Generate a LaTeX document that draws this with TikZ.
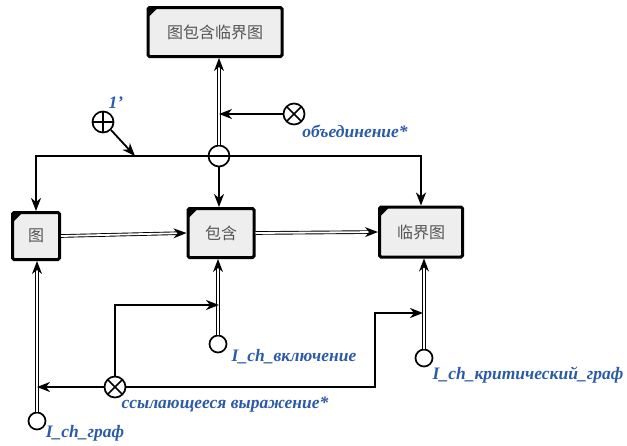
\documentclass[tikz,border=0pt]{standalone}
\usepackage{fontspec}
\setmainfont{Liberation Serif}
\newfontfamily\cjk{Noto Sans CJK SC}
\usepackage{xcolor}
\usepackage{tikz}
\usetikzlibrary{arrows.meta,positioning,calc,decorations.markings}
\definecolor{boxgray}{HTML}{EEEEEE}
\definecolor{txtgray}{HTML}{555555}
\definecolor{lblue}{HTML}{2B5BA6}

\begin{document}
\begin{tikzpicture}[
 x=1pt,y=-1pt,
 blk/.style={draw,line width=3pt,fill=boxgray,rounded corners=1.5pt,inner sep=0pt,
   font=\cjk\fontsize{16}{18}\selectfont,text=txtgray,
   path picture={\fill[black] (path picture bounding box.north west) -- ++(10,0) -- ++(-10,10) -- cycle;}},
 pin/.style={circle,draw,line width=1.7pt,minimum size=17pt,inner sep=0pt},
 opx/.style={pin,minimum size=21pt},
 xop/.style={opx,path picture={\draw[line width=1.5pt] (path picture bounding box.north west) -- (path picture bounding box.south east)
   (path picture bounding box.north east) -- (path picture bounding box.south west);}},
 pop/.style={opx,path picture={\draw[line width=1.5pt] (path picture bounding box.north) -- (path picture bounding box.south)
   (path picture bounding box.west) -- (path picture bounding box.east);}},
 mop/.style={opx,path picture={\draw[line width=1.5pt] (path picture bounding box.west) -- (path picture bounding box.east);}},
 lbl/.style={font=\fontsize{17.5}{19}\selectfont\bfseries\itshape,text=lblue,inner sep=0pt},
 arr/.style={line width=1.8pt,-{Stealth[length=13pt,width=10pt,inset=4pt]}},
 dbl/.style={double,double distance=1.8pt,line width=0.9pt,shorten >=8pt,
   postaction={decorate,decoration={markings,mark=at position 1 with
     {\fill[black] (0pt,0pt) -- (-13pt,5pt) -- (-9pt,0pt) -- (-13pt,-5pt) -- cycle;}}}}
]
\useasboundingbox (0,0) rectangle (627,445);
% boxes
\node[blk,minimum width=134pt,minimum height=49pt] (top) at (215,32) {图包含临界图};
\node[blk,minimum width=47pt,minimum height=47pt] (g) at (36,236) {图};
\node[blk,minimum width=66pt,minimum height=49pt] (inc) at (221,233) {包含};
\node[blk,minimum width=83pt,minimum height=50pt] (crit) at (421,232) {临界图};
% operators
\node[mop] (minus) at (219,156) {};
\node[xop] (xu) at (294,114) {};
\node[pop] (plus) at (103,122) {};
\node[xop] (xb) at (115,387) {};
% inputs
\node[pin] (ig) at (37,421) {};
\node[pin] (ii) at (218,344) {};
\node[pin] (ic) at (424,358) {};
\coordinate (j1) at (135,156);
\coordinate (t1) at (219,305);
\coordinate (t2) at (423,313);
\coordinate (k2) at (375,387);

\draw[dbl] (minus.north) -- (minus.north |- top.south);
\draw[arr] (xu.west) -- (xu -| minus);
\draw[arr] (plus.south east) -- (j1);
\draw[arr] (minus.west) -| (g.north);
\draw[arr] (minus.east) -| (crit.north);
\draw[arr] (minus.south) -- (minus |- inc.north);
\draw[dbl] (g.east) -- (inc.west);
\draw[dbl] (inc.east) -- (crit.west);
\draw[dbl] (ig.north) -- (ig |- g.south);
\draw[dbl] (ii.north) -- (ii |- inc.south);
\draw[dbl] (ic.north) -- (ic |- crit.south);
\draw[arr] (xb.west) -- (xb -| ig);
\draw[arr] (xb.north) |- (t1);
\draw[arr] (xb.east) -- (k2) |- (t2);

% labels
\node[lbl] at (116,103) {1'};
\node[lbl] at (355,131) {объединение*};
\node[lbl] at (225,405) {ссылающееся выражение*};
\node[lbl] at (85,433) {I\_ch\_граф};
\node[lbl] at (294,357) {I\_ch\_включение};
\node[lbl] at (528,375) {I\_ch\_критический\_граф};
\end{tikzpicture}
\end{document}
